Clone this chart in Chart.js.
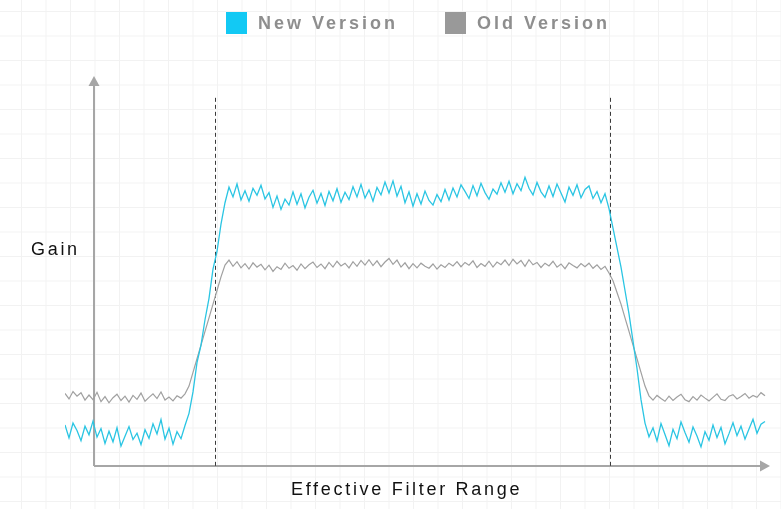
<!DOCTYPE html>
<html>
<head>
<meta charset="utf-8">
<script src="https://cdn.jsdelivr.net/npm/chart.js@4.4.1/dist/chart.umd.min.js"></script>
<style>
  html, body { margin: 0; padding: 0; background: #fff; }
  #wrap {
    position: relative; width: 781px; height: 509px; overflow: hidden;
    background-color: #fff;
    background-image:
      linear-gradient(to right, #f2f2f2 1px, transparent 1px),
      linear-gradient(to bottom, #f2f2f2 1px, transparent 1px);
    background-size: 24.5px 24.5px;
    background-position: 21px 11px;
    font-family: "Liberation Sans", Arial, sans-serif;
  }
  #chart { position: absolute; left: 0; top: 0; }
  #legend { position: absolute; left: 226px; top: 12px; display: flex; }
  .item { display: flex; align-items: center; margin-right: 47px; }
  .box { width: 21px; height: 22px; margin-right: 11px; }
  .item span { font-size: 18px; font-weight: bold; color: #8e8e8e; letter-spacing: 3px; }
  .title { position: absolute; font-size: 18px; color: #111; letter-spacing: 2.7px; line-height: 1; }
  #yTitle { left: 31px; top: 240px; }
  #xTitle { left: 291px; top: 480px; }
</style>
</head>
<body>
<div id="wrap">
  <canvas id="chart" width="781" height="509"></canvas>
  <div id="legend"></div>
  <div class="title" id="yTitle">Gain</div>
  <div class="title" id="xTitle">Effective Filter Range</div>
</div>
<script>
// gain readings, one per sample step along the frequency axis
var newVersion = [
	10.5, 7.2, 11.0, 9.1, 6.5, 10.2, 8.0, 11.5, 7.4, 9.6,
	5.8, 8.9, 6.2, 9.8, 5.1, 7.6, 10.1, 6.8, 8.4, 5.5,
	9.3, 7.1, 10.8, 8.2, 11.9, 6.9, 9.7, 5.6, 8.8, 7.0,
	10.4,
	13.5, 19.0, 26.5, 31.0, 37.5, 43.0, 50.5, 55.0, 62.0, 67.5,
	71.5, 69.0, 72.3, 68.2, 70.6, 67.9, 71.2, 69.4, 72.0, 68.5,
	70.1, 66.3, 69.2, 65.8, 68.4, 66.9, 70.3, 67.1, 69.8, 66.2,
	68.9, 70.7, 67.4, 69.9, 66.8, 70.4, 68.0, 71.1, 67.6, 70.2,
	68.3, 71.6, 69.0, 72.2, 68.7, 70.8, 67.9, 71.4, 69.5, 72.8,
	70.0, 73.1, 69.2, 71.7, 67.5, 70.3, 66.6, 69.8, 67.2, 70.5,
	68.1, 66.9, 69.6, 67.8, 70.9, 68.2, 71.3, 69.0, 72.1, 70.4,
	68.6, 71.9, 69.3, 72.5, 70.1, 68.4, 71.0, 69.7, 72.6, 70.2,
	73.0, 69.8, 72.4, 70.6, 74.0, 71.2, 69.5, 72.7, 70.3, 68.9,
	71.8, 69.1, 72.3, 70.0, 67.7, 71.5, 69.4, 72.1, 68.8, 70.9,
	71.8, 68.6, 70.4, 67.5, 69.8,
	66.0, 61.0, 56.0, 51.0, 45.0, 39.0, 32.0, 25.0, 17.0, 11.0, 7.5,
	9.8, 6.4, 10.9, 8.1, 5.2, 9.4, 7.0, 11.3, 8.6, 6.1,
	10.0, 7.7, 4.9, 8.8, 6.6, 10.5, 7.3, 9.9, 5.7, 8.3,
	11.1, 7.8, 10.2, 6.9, 9.5, 12.0, 8.4, 10.7, 11.4
];

var oldVersion = [
	18.6, 17.2, 19.1, 17.9, 18.8, 16.9, 18.2, 17.0, 18.9, 16.5,
	17.8, 16.2, 17.5, 18.4, 16.8, 17.9, 16.4, 18.1, 17.1, 18.7,
	16.6, 17.6, 18.5, 17.3, 19.0, 16.9, 17.7, 16.7, 18.0, 17.4,
	18.5, 20.5, 24.0, 27.5, 31.0, 34.5, 38.0, 41.5, 45.0, 48.5, 51.5,
	52.8, 51.2, 52.4, 50.8, 51.9, 50.5, 52.1, 51.0, 51.7, 50.3,
	51.5, 49.9, 51.1, 50.4, 52.0, 50.7, 51.4, 50.2, 51.8, 50.6,
	51.6, 52.3, 50.9, 51.8, 50.6, 52.2, 51.0, 52.5, 51.3, 52.0,
	50.8, 52.4, 51.2, 52.7, 51.5, 52.9, 51.4, 52.6, 51.1, 52.3,
	53.2, 51.7, 52.8, 51.0, 52.1, 50.6, 51.9, 50.8, 52.0, 51.2,
	50.7, 51.8, 50.5, 51.6, 50.9, 52.0, 51.3, 52.4, 51.1, 52.2,
	51.5, 52.6, 50.9, 51.9, 51.2, 52.5, 51.0, 52.3, 51.6, 52.8,
	51.4, 53.0, 51.8, 52.7, 51.2, 52.9, 51.6, 52.2, 50.9, 52.0,
	51.3, 52.5, 51.0, 51.8, 50.6, 52.1, 51.4, 50.8, 51.9, 51.1,
	52.0, 50.7, 51.6, 50.4, 51.2,
	49.5, 47.5, 44.5, 41.5, 38.0, 34.5, 31.0, 27.5, 24.0, 20.5, 18.0,
	16.9, 18.1, 17.3, 16.6, 17.9, 16.8, 17.7, 18.4, 17.0, 16.5,
	17.8, 16.9, 18.2, 17.4, 16.7, 17.6, 18.5, 17.1, 16.8, 17.9,
	18.3, 17.2, 17.8, 18.6, 17.4, 18.1, 17.6, 18.8, 18.0
];

var seriesNames = ['New Version', 'Old Version'];
var passband = [37.5, 136.25]; // edges of the effective filter range, in samples
var yAxisAt = 7.25;            // sample position where the gain axis sits
var xRange = [0, 176];
var gainRange = [0, 100];

function toPoints(values) {
	return values.map(function (v, i) {
		return { x: i, y: v };
	});
}

function arrowHead(ctx, tipX, tipY, dir) {
	ctx.beginPath();
	if (dir === 'up') {
		ctx.moveTo(tipX, tipY);
		ctx.lineTo(tipX - 5.5, tipY + 10);
		ctx.lineTo(tipX + 5.5, tipY + 10);
	} else {
		ctx.moveTo(tipX, tipY);
		ctx.lineTo(tipX - 10, tipY - 5.5);
		ctx.lineTo(tipX - 10, tipY + 5.5);
	}
	ctx.closePath();
	ctx.fill();
}

// plain arrowed axes plus the dashed passband markers
var filterAxes = {
	id: 'filterAxes',
	beforeDatasetsDraw: function (chart) {
		var ctx = chart.ctx,
			x = chart.scales.x,
			y = chart.scales.y,
			ox = x.getPixelForValue(yAxisAt),
			oy = y.getPixelForValue(gainRange[0]),
			top = y.getPixelForValue(gainRange[1]),
			right = x.getPixelForValue(xRange[1]) + 1;

		ctx.save();
		ctx.strokeStyle = '#a6a6a6';
		ctx.fillStyle = '#a6a6a6';
		ctx.lineWidth = 2;
		ctx.beginPath();
		ctx.moveTo(ox, oy);
		ctx.lineTo(ox, top + 8);
		ctx.moveTo(ox, oy);
		ctx.lineTo(right - 8, oy);
		ctx.stroke();
		arrowHead(ctx, ox, top, 'up');
		arrowHead(ctx, right, oy, 'right');

		ctx.strokeStyle = '#3a3a3a';
		ctx.lineWidth = 1;
		ctx.setLineDash([4, 3]);
		passband.forEach(function (edge) {
			var px = Math.round(x.getPixelForValue(edge)) + 0.5;
			ctx.beginPath();
			ctx.moveTo(px, y.getPixelForValue(94.4));
			ctx.lineTo(px, oy);
			ctx.stroke();
		});
		ctx.restore();
	}
};

var chart = new Chart(document.getElementById('chart'), {
	type: 'line',
	data: {
		datasets: [{
			label: seriesNames[0],
			data: toPoints(newVersion),
			borderColor: '#2ac5e3',
			swatch: '#12c9f4',
			borderWidth: 1.3
		}, {
			label: seriesNames[1],
			data: toPoints(oldVersion),
			borderColor: '#a0a0a0',
			swatch: '#999999',
			borderWidth: 1.2
		}]
	},
	options: {
		responsive: false,
		animation: false,
		parsing: false,
		layout: { padding: { left: 65, right: 12, top: 76, bottom: 43 } },
		elements: { point: { radius: 0 }, line: { tension: 0 } },
		scales: {
			x: { type: 'linear', min: xRange[0], max: xRange[1], display: false },
			y: { type: 'linear', min: gainRange[0], max: gainRange[1], display: false }
		},
		plugins: {
			legend: { display: false },
			tooltip: { enabled: false }
		}
	},
	plugins: [filterAxes]
});

// html legend built from the datasets
var legend = document.getElementById('legend');
chart.data.datasets.forEach(function (ds) {
	var item = document.createElement('div'),
		box = document.createElement('div'),
		text = document.createElement('span');
	item.className = 'item';
	box.className = 'box';
	box.style.background = ds.swatch;
	text.textContent = ds.label;
	item.appendChild(box);
	item.appendChild(text);
	legend.appendChild(item);
});
</script>
</body>
</html>
